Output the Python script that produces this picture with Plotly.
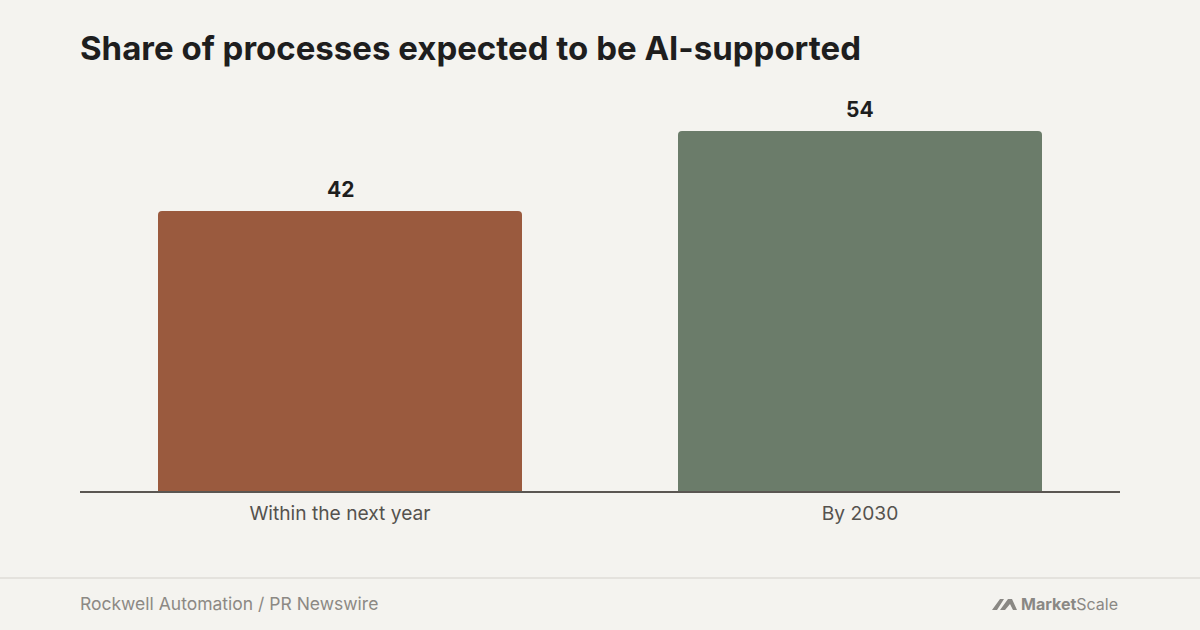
import plotly.graph_objects as go

categories = ["Within the next year", "By 2030"]
values = [42, 54]
bar_colors = ["#9a5a3e", "#6b7c6a"]

title_text = "Share of processes expected to be AI-supported"
source_text = "Rockwell Automation / PR Newswire"

BG = "#f4f3ef"
FONT = "Inter, Liberation Sans, sans-serif"

fig = go.Figure()
fig.add_trace(go.Bar(
    x=categories, y=values,
    marker=dict(color=bar_colors, line=dict(width=0), cornerradius=4),
    hoverinfo="skip",
))

for c, v in zip(categories, values):
    fig.add_annotation(x=c, y=v, text=f"<b>{v}</b>", showarrow=False,
                       yanchor="bottom", yshift=7,
                       font=dict(family=FONT, size=21, color="#1e1e1e"))

fig.update_layout(
    width=1200, height=630,
    paper_bgcolor=BG, plot_bgcolor=BG,
    margin=dict(l=80, r=80, t=91, b=139),
    bargap=0.3,
    showlegend=False,
    xaxis=dict(showgrid=False, showline=True, linecolor="#5a5652", linewidth=1.5,
               ticks="", ticklabelstandoff=4,
               tickfont=dict(family=FONT, size=19.2, color="#55524e"),
               fixedrange=True),
    yaxis=dict(range=[0, 60], showgrid=False, showticklabels=False, zeroline=False,
               showline=False, fixedrange=True),
    font=dict(family=FONT),
)

# title
fig.add_annotation(xref="paper", yref="paper", x=0, y=1, xanchor="left", yanchor="middle",
                   xshift=-2, yshift=(91 - 48), text=f"<b>{title_text}</b>", showarrow=False,
                   font=dict(family=FONT, size=33, color="#1e1e1e"))

# footer separator
fig.add_shape(type="line", xref="paper", yref="paper", x0=-80/1040, x1=1 + 80/1040,
              y0=-(578 - 491) / 400, y1=-(578 - 491) / 400,
              line=dict(color="#e4e2dd", width=2))

# source
fig.add_annotation(xref="paper", yref="paper", x=0, y=-(603 - 491) / 400, xanchor="left", yanchor="middle",
                   xshift=-2, text=source_text, showarrow=False,
                   font=dict(family=FONT, size=17.5, color="#8c8984"))

# logo text
fig.add_annotation(xref="paper", yref="paper", x=1, y=-(604 - 491) / 400, xanchor="right", yanchor="middle",
                   text="<b>Market</b>Scale", showarrow=False,
                   font=dict(family=FONT, size=16, color="#8a8884"))

# logo icon (two slanted strokes), in pixel-based paper coordinates
def px(xp):
    return (xp - 80) / 1040
def py(yp):
    return (491 - yp) / 400

icon = (f"M {px(992)},{py(610)} L {px(1000)},{py(599)} L {px(1004)},{py(599)} L {px(997)},{py(610)} Z "
        f"M {px(1000)},{py(610)} L {px(1008)},{py(599)} L {px(1012)},{py(599)} L {px(1017)},{py(610)} L {px(1013)},{py(610)} L {px(1010)},{py(604)} L {px(1005)},{py(610)} Z")
fig.add_shape(type="path", xref="paper", yref="paper", path=icon,
              fillcolor="#8a8884", line=dict(width=0))

fig.write_html("out.html", config={"displayModeBar": False},
               post_script="document.body.style.margin='0';document.body.style.background='#f4f3ef';")
